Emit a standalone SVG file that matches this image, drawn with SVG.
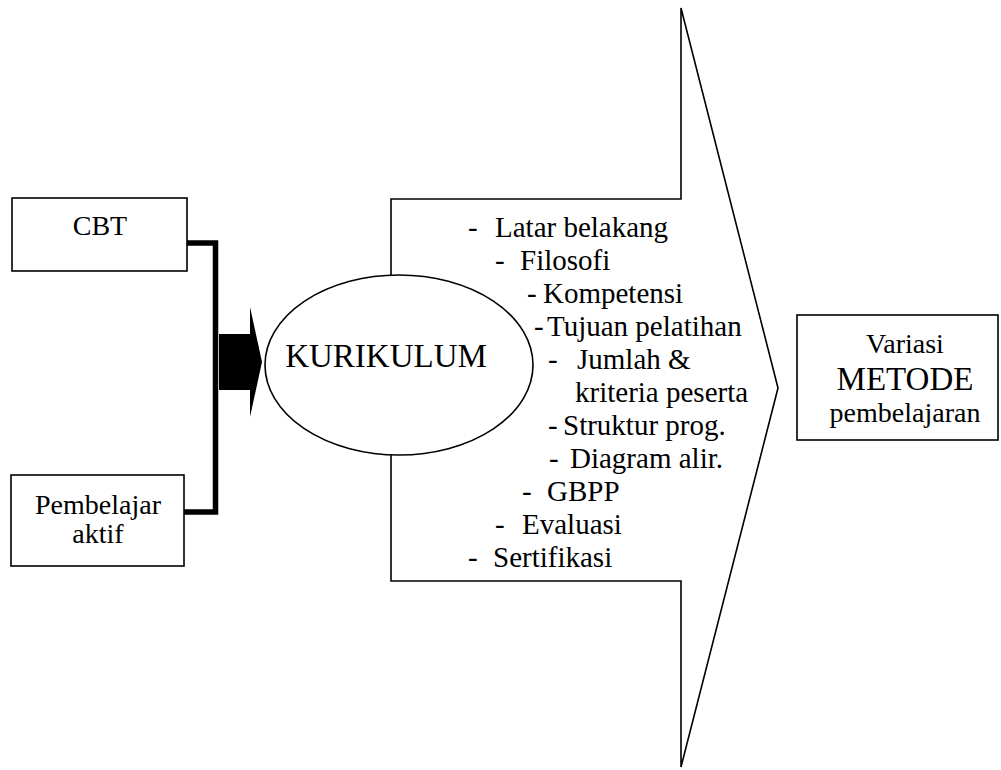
<svg xmlns="http://www.w3.org/2000/svg" width="1001" height="770" viewBox="0 0 1001 770">
<style>
.box{fill:#fff;stroke:#000;stroke-width:1.6}
text{font-family:'Liberation Serif','Times New Roman','DejaVu Serif',serif;fill:#000}
.lbl{font-size:28px;text-anchor:middle}
.li{font-size:29px}
.br{fill:none;stroke:#000;stroke-width:5.5;stroke-linejoin:miter}
</style>
<rect width="1001" height="770" fill="#fff"/>
<g id="connectors">
<path class="br" d="M187,243 H215.5 V512 H184"/>
<polygon id="block-arrow" points="219,334 250,334 250,307 262,362 250,417 250,390 219,390" fill="#000"/>
</g>
<g id="node-cbt">
<rect class="box" x="12" y="198" width="175" height="73"/>
<text class="lbl" x="100" y="235" font-family="Liberation Serif, serif">CBT</text>
</g>
<g id="node-pembelajar">
<rect class="box" x="11" y="475" width="173" height="91"/>
<text class="lbl" x="98" y="514" font-family="Liberation Serif, serif">Pembelajar</text>
<text class="lbl" x="98" y="543" font-family="Liberation Serif, serif">aktif</text>
</g>
<g id="node-pentagon">
<polygon class="box" points="391,199 681,199 681,8 778,388 681,767 681,581 391,581"/>
<g class="li" font-family="Liberation Serif, serif">
<text y="237" font-family="Liberation Serif, serif"><tspan x="468">-</tspan><tspan x="495">Latar belakang</tspan></text>
<text y="270" font-family="Liberation Serif, serif"><tspan x="495">-</tspan><tspan x="520">Filosofi</tspan></text>
<text y="303" font-family="Liberation Serif, serif"><tspan x="527">-</tspan><tspan x="543">Kompetensi</tspan></text>
<text y="336" font-family="Liberation Serif, serif"><tspan x="534">-</tspan><tspan x="547">Tujuan pelatihan</tspan></text>
<text y="369" font-family="Liberation Serif, serif"><tspan x="548">-</tspan><tspan x="577">Jumlah &amp;</tspan></text>
<text y="402" font-family="Liberation Serif, serif"><tspan x="575">kriteria peserta</tspan></text>
<text y="435" font-family="Liberation Serif, serif"><tspan x="548">-</tspan><tspan x="563">Struktur prog.</tspan></text>
<text y="468" font-family="Liberation Serif, serif"><tspan x="549">-</tspan><tspan x="570">Diagram alir.</tspan></text>
<text y="501" font-family="Liberation Serif, serif"><tspan x="522">-</tspan><tspan x="547">GBPP</tspan></text>
<text y="534" font-family="Liberation Serif, serif"><tspan x="495">-</tspan><tspan x="522">Evaluasi</tspan></text>
<text y="567" font-family="Liberation Serif, serif"><tspan x="468">-</tspan><tspan x="493">Sertifikasi</tspan></text>
</g>
</g>
<g id="node-kurikulum">
<ellipse class="box" cx="399" cy="365" rx="134" ry="90"/>
<text x="386" y="367" font-size="33" text-anchor="middle" font-family="Liberation Serif, serif">KURIKULUM</text>
</g>
<g id="node-metode">
<rect class="box" x="797" y="315" width="201" height="125"/>
<text class="lbl" x="905" y="353" font-family="Liberation Serif, serif">Variasi</text>
<text x="905" y="390" font-size="33" text-anchor="middle" font-family="Liberation Serif, serif">METODE</text>
<text class="lbl" x="905" y="422" font-family="Liberation Serif, serif">pembelajaran</text>
</g>
</svg>
